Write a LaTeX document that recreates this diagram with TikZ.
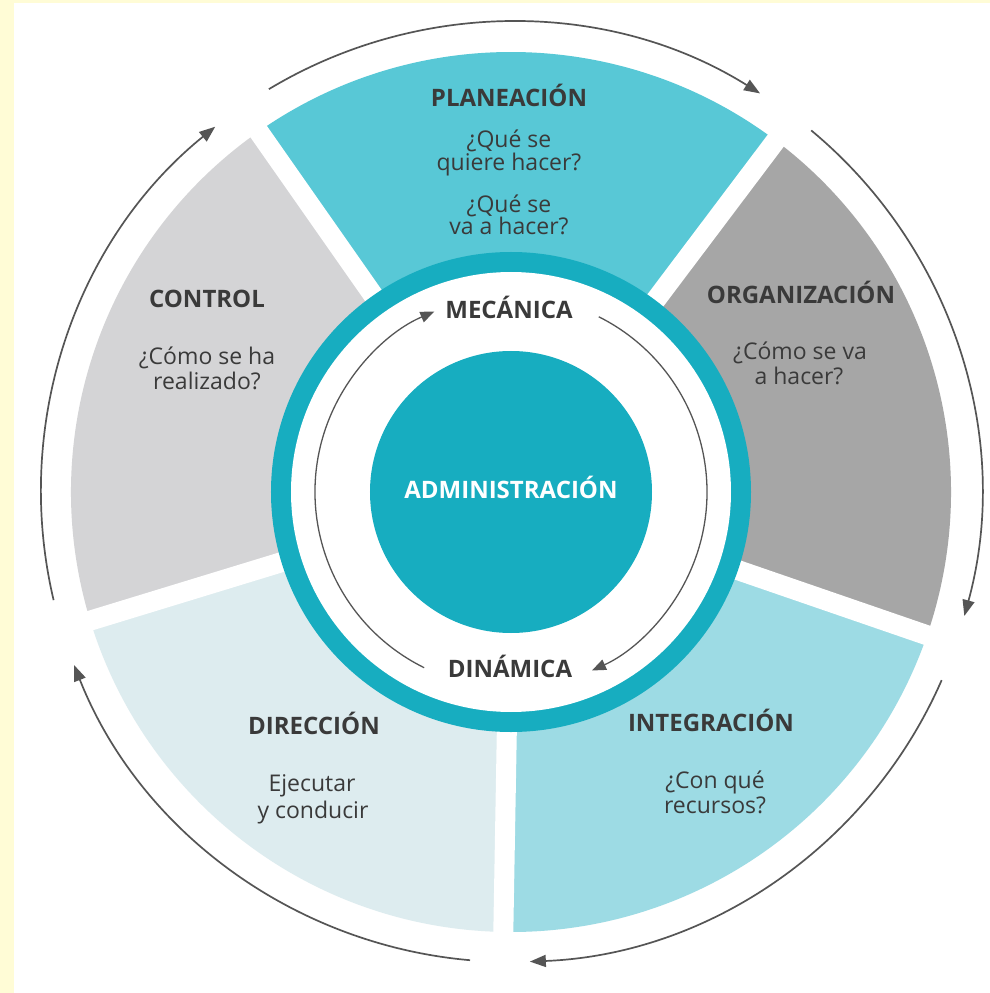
\documentclass[tikz,border=0pt]{standalone}
\usepackage{fontspec}
\setmainfont{Open Sans}
\usetikzlibrary{arrows.meta}

\definecolor{paper}{HTML}{FFFCD6}
\definecolor{tealc}{HTML}{17ADC0}
\definecolor{planc}{HTML}{58C8D6}
\definecolor{orgc}{HTML}{A6A6A6}
\definecolor{intc}{HTML}{9DDBE4}
\definecolor{dirc}{HTML}{DDECEF}
\definecolor{ctrlc}{HTML}{D4D4D6}
\definecolor{ink}{HTML}{3A3A3A}
\definecolor{linec}{HTML}{555555}

\begin{document}
\begin{tikzpicture}[x=1pt,y=1pt,
  heading/.style={font=\fontsize{24}{26}\selectfont\bfseries, text=ink, anchor=base, inner sep=0pt},
  body/.style={font=\fontsize{23}{26}\selectfont, text=ink, anchor=base, inner sep=0pt},
  cycarrow/.style={draw=linec, line width=1.7pt, -{Triangle[length=16pt,width=12pt]}},
  innerarrow/.style={draw=linec, line width=1.3pt, -{Triangle[length=14pt,width=11pt]}},
  gap/.style={draw=white, line width=20pt}]

% page: pale margin and white sheet
\useasboundingbox (-511,-501) rectangle (479,492);
\fill[paper] (-511,-501) rectangle (479,492);
\fill[white] (-497,-501) rectangle (479,489);

% the five sectors of the process
\fill[planc] (0,0) -- (53:440) arc[start angle=53, end angle=125, radius=440] -- cycle;
\fill[ctrlc] (0,0) -- (125:440) arc[start angle=125, end angle=197, radius=440] -- cycle;
\fill[dirc]  (0,0) -- (197:440) arc[start angle=197, end angle=269, radius=440] -- cycle;
\fill[intc]  (0,0) -- (269:440) arc[start angle=269, end angle=341, radius=440] -- cycle;
\fill[orgc]  (0,0) -- (-19:440) arc[start angle=-19, end angle=53, radius=440] -- cycle;

% white separations between sectors
\foreach \a in {53,125,197,269,341} \draw[gap] (0,0) -- (\a:460);

% central ring and core
\fill[tealc] (0,0) circle (240);
\fill[white] (0,0) circle (220);
\node[circle, fill=tealc, minimum size=282pt, inner sep=0pt] (core) at (0,0) {};

% outer cycle arrows
\draw[cycarrow] (121:470) arc[start angle=121, end angle=58, radius=470];
\draw[cycarrow] (50.3:470) arc[start angle=50.3, end angle=-15.3, radius=470];
\draw[cycarrow] (-23.6:470) arc[start angle=-23.6, end angle=-87.7, radius=470];
\draw[cycarrow] (-95:470) arc[start angle=-95, end angle=-158.4, radius=470];
\draw[cycarrow] (-166.7:470) arc[start angle=-166.7, end angle=-231, radius=470];

% inner arrows between mechanics and dynamics
\draw[innerarrow] (243.7:196) arc[start angle=243.7, end angle=113, radius=196];
\draw[innerarrow] (63.4:196) arc[start angle=63.4, end angle=-65.6, radius=196];

% labels
\node[heading, text=white] (admin) at (0,-6) {ADMINISTRACIÓN};
\node[heading] (mec) at (-2,173) {MECÁNICA};
\node[heading] (din) at (-1,-185) {DINÁMICA};

\node[heading] (plan) at (-2,385) {PLANEACIÓN};
\node[body] (plan1) at (-2,344) {¿Qué se};
\node[body] (plan2) at (-2,321) {quiere hacer?};
\node[body] (plan3) at (-2,279) {¿Qué se};
\node[body] (plan4) at (-2,257) {va a hacer?};

\node[heading] (org) at (290,188) {ORGANIZACIÓN};
\node[body] (org1) at (289,132) {¿Cómo se va};
\node[body] (org2) at (288,107) {a hacer?};

\node[heading] (int) at (200,-239) {INTEGRACIÓN};
\node[body] (int1) at (204,-296) {¿Con qué};
\node[body] (int2) at (204,-321) {recursos?};

\node[heading] (dir) at (-197,-242) {DIRECCIÓN};
\node[body] (dir1) at (-199,-299) {Ejecutar};
\node[body] (dir2) at (-198,-326) {y conducir};

\node[heading] (ctrl) at (-304,184) {CONTROL};
\node[body] (ctrl1) at (-304,127) {¿Cómo se ha};
\node[body] (ctrl2) at (-304,102) {realizado?};
\end{tikzpicture}
\end{document}
